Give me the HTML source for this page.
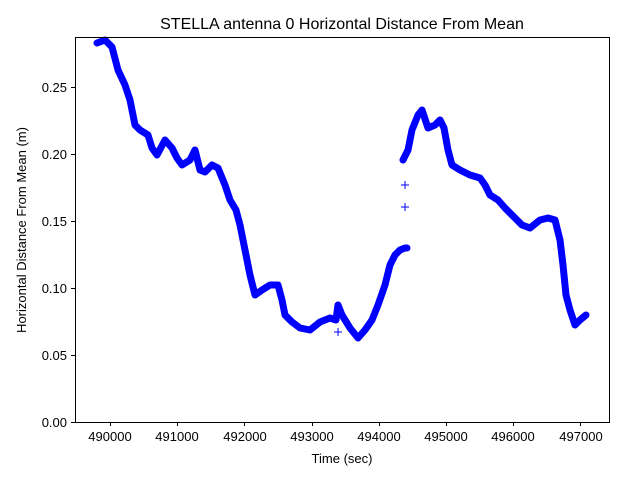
<!DOCTYPE html>
<html><head><style>body{margin:0;background:#fff}</style></head><body>
<svg width="640" height="480" xmlns="http://www.w3.org/2000/svg" font-family="Liberation Sans, DejaVu Sans, sans-serif">
<rect width="640" height="480" fill="#fff"/>
<text x="342" y="29" font-size="16" text-anchor="middle">STELLA antenna 0 Horizontal Distance From Mean</text>
<g fill="none" stroke="#0000ff" stroke-width="7" stroke-linejoin="round" stroke-linecap="round">
<polyline points="97,43 105,40 112,47 118,70 125,85 130,100 135,125 140,130 148,135 152,148 157,155 165,140 172,148 177,158 182,165 190,160 195,150 200,170 205,172 212,165 218,168 225,185 230,200 236,210 240,225 245,250 250,275 255,295 262,290 270,285 278,285 282,300 285,315 292,322 300,328 310,330 320,322 330,318 336,320 338,305 342,315 350,328 358,338 365,330 372,320 378,305 385,285 390,265 395,255 400,250 405,248 407,248"/>
<polyline points="403,160 408,150 412,130 418,115 422,110 428,128 435,125 440,120 444,128 448,150 452,165 460,170 470,175 480,178 485,185 490,195 498,200 505,208 515,218 522,225 530,228 540,220 548,218 555,220 560,240 563,265 566,295 570,310 575,325 580,320 586,315"/>
</g>
<g stroke="#0000ff" stroke-width="1">
<path d="M401,185h8M405,181v8M401,207h8M405,203v8M334,332h8M338,328v8"/>
</g>
<rect x="75.5" y="37.5" width="534" height="385" fill="none" stroke="#000" stroke-width="1"/>
<g stroke="#000" stroke-width="1">
<path d="M75,422.5h-4M75,355.5h-4M75,288.5h-4M75,221.5h-4M75,154.5h-4M75,87.5h-4"/>
<path d="M110.5,422v4M177.5,422v4M244.5,422v4M312.5,422v4M379.5,422v4M446.5,422v4M513.5,422v4M580.5,422v4"/>
</g>
<g font-size="13" text-anchor="end">
<text x="67" y="427">0.00</text><text x="67" y="360">0.05</text><text x="67" y="293">0.10</text><text x="67" y="226">0.15</text><text x="67" y="159">0.20</text><text x="67" y="92">0.25</text>
</g>
<g font-size="13" text-anchor="middle">
<text x="110" y="441">490000</text><text x="177" y="441">491000</text><text x="245" y="441">492000</text><text x="312" y="441">493000</text><text x="379" y="441">494000</text><text x="446" y="441">495000</text><text x="513" y="441">496000</text><text x="581" y="441">497000</text>
</g>
<text x="342" y="463" font-size="13" text-anchor="middle">Time (sec)</text>
<text transform="translate(26,230) rotate(-90)" font-size="13" text-anchor="middle">Horizontal Distance From Mean (m)</text>
</svg>
</body></html>
